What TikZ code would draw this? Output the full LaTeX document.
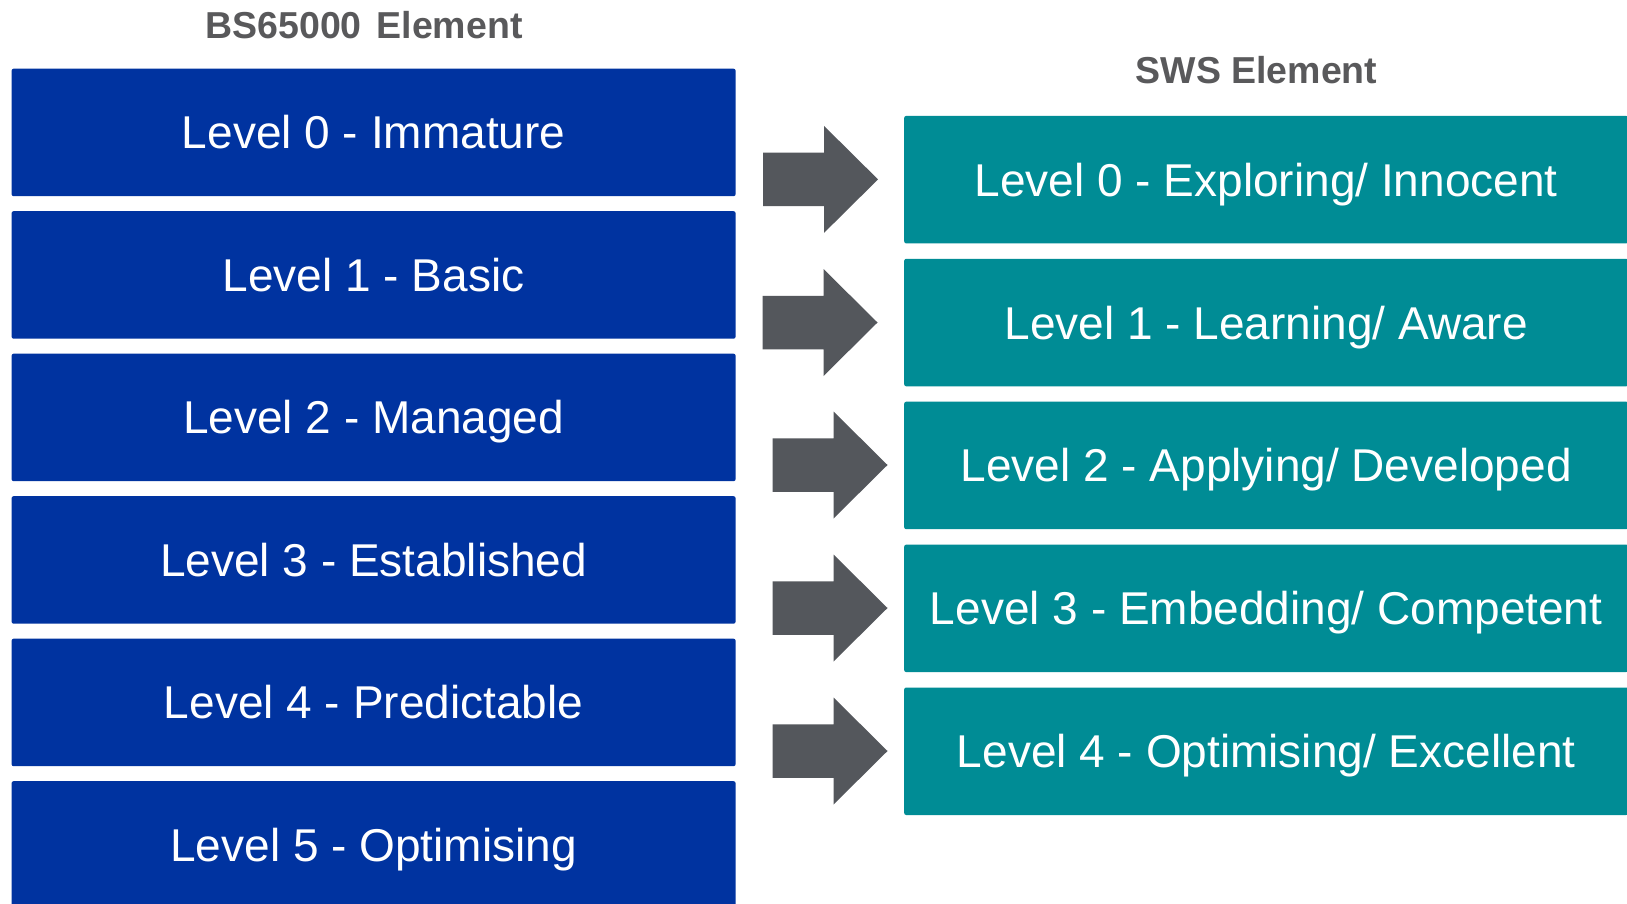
\documentclass[tikz,border=0pt]{standalone}
\usepackage{fontspec}
\setmainfont{Liberation Sans}
\definecolor{bsblue}{RGB}{0,51,160}
\definecolor{swsteal}{RGB}{0,140,149}
\definecolor{arrowgray}{RGB}{84,87,92}
\definecolor{titlegray}{RGB}{89,89,91}
\tikzset{
  levelbox/.style={rounded corners=2pt, minimum width=724pt, minimum height=127.5pt, inner sep=0pt, anchor=north west, text=white, text height=33pt, text depth=0pt, font=\fontsize{46}{50}\selectfont},
  bsbox/.style={levelbox, fill=bsblue},
  swsbox/.style={levelbox, fill=swsteal},
  coltitle/.style={text=titlegray, font=\fontsize{37.5}{40}\selectfont\bfseries, inner sep=0pt},
  bigarrow/.pic={\fill[arrowgray] (0,-26.75) -- (61,-26.75) -- (61,-53.5) -- (115,0) -- (61,53.5) -- (61,26.75) -- (0,26.75) -- cycle;}
}
\begin{document}
\begin{tikzpicture}[x=1pt,y=-1pt]
\useasboundingbox (0,0) rectangle (1627,904);
\clip (0,0) rectangle (1627,904);
\fill[white] (0,0) rectangle (1627,904);
\node[coltitle] (t1) at (364,25) {BS65000\hspace{0.4em}Element};
\node[coltitle] (t2) at (1256.5,70.5) {SWS Element};
\node[bsbox] (b0) at (11.4,68.5) {Level 0 - Immature};
\node[bsbox] (b1) at (11.4,211) {Level 1 - Basic};
\node[bsbox] (b2) at (11.4,353.5) {Level 2 - Managed};
\node[bsbox] (b3) at (11.4,496) {Level 3 - Established};
\node[bsbox] (b4) at (11.4,638.5) {Level 4 - Predictable};
\node[bsbox] (b5) at (11.4,781) {Level 5 - Optimising};
\node[swsbox] (s0) at (904,115.7) {Level 0 - Exploring/ Innocent};
\node[swsbox] (s1) at (904,258.6) {Level 1 - Learning/ Aware};
\node[swsbox] (s2) at (904,401.5) {Level 2 - Applying/ Developed};
\node[swsbox] (s3) at (904,544.4) {Level 3 - Embedding/ Competent};
\node[swsbox] (s4) at (904,687.3) {Level 4 - Optimising/ Excellent};
\pic at (763,179.4) {bigarrow};
\pic at (762.5,322.5) {bigarrow};
\pic at (772.5,465) {bigarrow};
\pic at (772.5,608) {bigarrow};
\pic at (772.5,751) {bigarrow};
\end{tikzpicture}
\end{document}
